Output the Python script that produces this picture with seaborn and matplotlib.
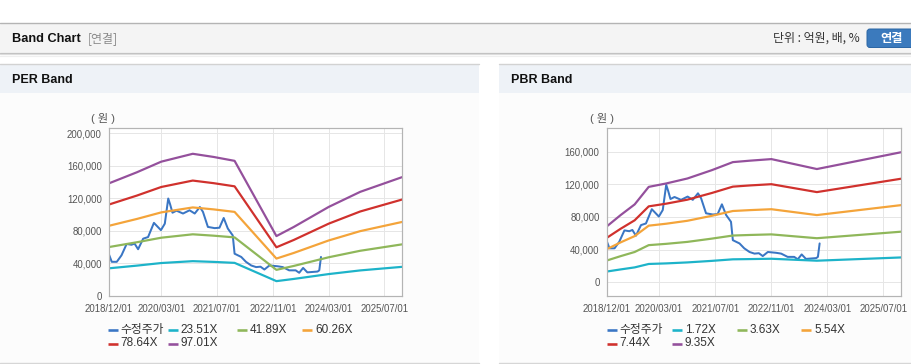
import pandas as pd
import matplotlib
matplotlib.use('Agg')
import matplotlib.pyplot as plt
import matplotlib.dates as mdates
from matplotlib.patches import Rectangle, FancyBboxPatch
from matplotlib.ticker import FuncFormatter
import seaborn as sns

# ---- data ----
price_dates = ['2018-12-01', '2018-12-25', '2019-02-07', '2019-03-20', '2019-05-04', '2019-06-15',
               '2019-07-12', '2019-08-12', '2019-09-25', '2019-11-07', '2019-12-28', '2020-02-27',
               '2020-04-01', '2020-05-01', '2020-05-18', '2020-06-07', '2020-07-12', '2020-09-07',
               '2020-11-03', '2020-12-18', '2021-02-01', '2021-02-28', '2021-04-12', '2021-06-10',
               '2021-07-22', '2021-08-28', '2021-10-03', '2021-11-15', '2021-12-01', '2022-01-28',
               '2022-03-10', '2022-04-25', '2022-06-07', '2022-07-15', '2022-08-18', '2022-10-01',
               '2022-12-12', '2023-01-25', '2023-03-22', '2023-05-18', '2023-06-18', '2023-07-22',
               '2023-08-28', '2023-11-25', '2023-12-10', '2023-12-25']
price_vals = [50500, 41500, 41500, 49500, 63500, 62500, 64000, 57000, 70000, 72000, 89500, 80500,
              88500, 119500, 112000, 102000, 104500, 101000, 105000, 101000, 109000, 103000, 84500, 83000,
              83500, 95500, 82500, 74000, 51500, 47500, 41500, 37000, 35000, 35500, 32000, 37000,
              36000, 35000, 31000, 31000, 28000, 34000, 28500, 29500, 31000, 47500]

per_labels = ['23.51X', '41.89X', '60.26X', '78.64X', '97.01X']
per_dates = ['2018-12-01', '2019-08-01', '2020-03-01', '2020-12-01', '2021-06-01', '2021-12-01',
             '2022-12-01', '2023-05-01', '2024-03-01', '2024-12-01', '2025-12-01']
per_2351 = [33500, 36800, 40000, 42300, 41400, 40200, 17700, 20400, 26400, 30900, 35300]
per_4189 = [59700, 65600, 71200, 75400, 73700, 71600, 31600, 36400, 47100, 55100, 63000]
per_6026 = [85900, 94300, 102400, 108500, 106100, 103000, 45500, 52400, 67800, 79300, 90600]
per_7864 = [112100, 123100, 133700, 141600, 138400, 134500, 59400, 68400, 88500, 103500, 118200]
per_9701 = [138200, 151800, 164900, 174600, 170700, 165900, 73200, 84400, 109100, 127700, 145800]

pbr_labels = ['1.72X', '3.63X', '5.54X', '7.44X', '9.35X']
pbr_dates = ['2018-12-01', '2019-04-01', '2019-08-01', '2019-12-01', '2020-05-01', '2020-11-01',
             '2021-06-01', '2021-12-01', '2022-05-01', '2022-11-01', '2023-12-01', '2024-12-01',
             '2025-12-01']
pbr_172 = [13000, 15600, 18100, 22300, 23000, 24200, 26100, 28000, 28300, 28700, 26300, 28300, 30300]
pbr_363 = [26500, 31900, 37000, 45400, 47000, 49400, 53400, 57200, 57900, 58600, 53900, 57900, 61900]
pbr_554 = [40400, 48800, 56500, 69300, 71700, 75300, 81400, 87300, 88400, 89500, 82300, 88400, 94500]
pbr_744 = [54300, 65500, 75900, 93000, 96300, 101200, 109400, 117200, 118700, 120200, 110500, 118700, 126900]
pbr_935 = [68300, 82300, 95400, 116900, 121100, 127200, 137400, 147300, 149100, 151000, 138800, 149100, 159400]

x_ticks = ['2018-12-01', '2020-03-01', '2021-07-01', '2022-11-01', '2024-03-01', '2025-07-01']
price_label = '수정주가'
colors = ['#3a76c4', '#1db3c9', '#8fb75a', '#f4a43a', '#d0312d', '#94509c']

# ---- style ----
sns.set_style('white')
plt.rcParams['font.family'] = ['Liberation Sans', 'Noto Sans CJK KR', 'DejaVu Sans']

W, H = 912, 364
fig = plt.figure(figsize=(W / 100, H / 100), dpi=100)
bg = fig.add_axes([0, 0, 1, 1], zorder=0)
bg.set_xlim(0, W)
bg.set_ylim(H, 0)
bg.axis('off')

PX = 0.72  # one pixel in points

# top header bar
bg.add_patch(Rectangle((0, 22.5), W, 30.5, fc='#f4f4f4', ec='none'))
bg.plot([0, W], [22.5, 22.5], color='#b4b4b4', lw=1.4 * PX)
bg.plot([0, W], [53, 53], color='#c0c0c0', lw=1.2 * PX)
bg.plot([0, W], [54.3, 54.3], color='#dcdcdc', lw=1.2 * PX)
bg.plot([0, W], [55.5, 55.5], color='#efefef', lw=1.2 * PX)
bg.text(12, 38.5, 'Band Chart', fontsize=9.2, fontweight='bold', color='#111111', va='center')
bg.text(88, 38.5, '[연결]', fontsize=8.6, color='#8a8a8a', va='center',
        family=['Noto Sans CJK KR', 'DejaVu Sans'])
bg.text(860, 38.5, '단위 : 억원, 배, %', fontsize=8.6, color='#333333', va='center', ha='right',
        family=['Noto Sans CJK KR', 'DejaVu Sans'])
bg.add_patch(FancyBboxPatch((867, 29), 52, 18.5, boxstyle='round,pad=0,rounding_size=3',
                            fc='#3b7abd', ec='#2d67a5', lw=PX))
bg.text(891.5, 38.5, '연결', fontsize=8.8, fontweight='bold', color='white', va='center', ha='center',
        family=['Noto Sans CJK KR', 'DejaVu Sans'])

# panels
for (l, r, title) in [(0, 479, 'PER Band'), (499, W, 'PBR Band')]:
    bg.add_patch(Rectangle((l, 64), r - l, 299, fc='#fcfcfc', ec='none'))
    bg.add_patch(Rectangle((l, 64), r - l, 28.5, fc='#eef2f7', ec='none'))
    bg.plot([l, r], [64, 64], color='#d2d2d2', lw=1.4 * PX)
    bg.plot([l, r], [363, 363], color='#d6d6d6', lw=1.4 * PX)
    bg.text(l + 12, 80, title, fontsize=9.0, fontweight='bold', color='#111111', va='center')


def px_axes(l, t, r, b):
    return fig.add_axes([l / W, 1 - b / H, (r - l) / W, (b - t) / H], zorder=1)


def draw_band(ax, dates, bands, labels, ylim, yticks):
    price = pd.DataFrame({'date': pd.to_datetime(price_dates), 'value': price_vals})
    sns.lineplot(data=price, x='date', y='value', color=colors[0], lw=2.0 * PX, ax=ax)
    rows = []
    for lab, vals in zip(labels, bands):
        rows.append(pd.DataFrame({'date': pd.to_datetime(dates), 'value': vals, 'band': lab}))
    band_df = pd.concat(rows)
    sns.lineplot(data=band_df, x='date', y='value', hue='band', hue_order=labels,
                 palette=dict(zip(labels, colors[1:])), lw=2.2 * PX, legend=False, ax=ax)
    ax.set_xlim(pd.Timestamp('2018-12-01'), pd.Timestamp('2025-12-01'))
    ax.set_ylim(*ylim)
    ax.set_xticks(pd.to_datetime(x_ticks))
    ax.xaxis.set_major_formatter(mdates.DateFormatter('%Y/%m/%d'))
    ax.set_yticks(yticks)
    ax.yaxis.set_major_formatter(FuncFormatter(lambda v, p: f'{v:,.0f}'))
    ax.set_xlabel('')
    ax.set_ylabel('')
    ax.set_facecolor('white')
    ax.grid(True, color='#e6e6e6', lw=PX)
    for s in ax.spines.values():
        s.set_color('#b4b4b4')
        s.set_linewidth(1.2 * PX)
    ax.tick_params(axis='both', labelsize=6.9, colors='#b4b4b4', labelcolor='#555555',
                   length=3 * PX, width=PX, direction='out')
    ax.tick_params(axis='x', pad=4)
    ax.tick_params(axis='y', pad=3)


ax1 = px_axes(109, 128.3, 402, 295.5)
draw_band(ax1, per_dates, [per_2351, per_4189, per_6026, per_7864, per_9701], per_labels,
          (0, 206000), [0, 40000, 80000, 120000, 160000, 200000])

ax2 = px_axes(606.7, 128.3, 901, 295.5)
draw_band(ax2, pbr_dates, [pbr_172, pbr_363, pbr_554, pbr_744, pbr_935], pbr_labels,
          (-16400, 188800), [0, 40000, 80000, 120000, 160000])

# unit labels
bg.text(103, 118, '( 원 )', fontsize=8, color='#555555', ha='center', va='center')
bg.text(601.7, 118, '( 원 )', fontsize=8, color='#555555', ha='center', va='center')

# legends, drawn as in the reference (flowing rows below the plot)
leg_sets = [
    ([price_label] + per_labels, [107.7, 167.7, 236.7, 302, 107.7, 167.7]),
    ([price_label] + pbr_labels, [606.7, 671.7, 736.7, 801, 606.7, 671.7]),
]
for labs, xs in leg_sets:
    for i, (lab, x) in enumerate(zip(labs, xs)):
        y = 330 if i < 4 else 343.5
        bg.plot([x, x + 10.5], [y, y], color=colors[i], lw=2.6 * PX, solid_capstyle='butt')
        bg.text(x + 13, y, lab, fontsize=8.5, color='#333333', va='center')

fig.savefig('out.png', dpi=100)
